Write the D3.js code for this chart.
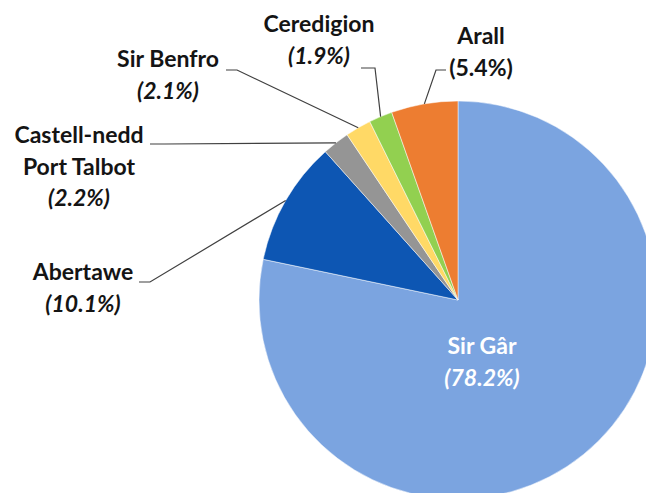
<!DOCTYPE html>
<html>
<head>
<meta charset="utf-8">
<script src="https://cdn.jsdelivr.net/npm/d3@7"></script>
<style>
  body { margin: 0; background: #fff; }
  svg { display: block; }
  text { font-family: Lato, "Open Sans", sans-serif; font-weight: bold; }
</style>
</head>
<body>
<script>
const categories = ["Sir Gâr", "Abertawe", "Castell-nedd\nPort Talbot", "Sir Benfro", "Ceredigion", "Arall"];
const values = [78.2, 10.1, 2.2, 2.1, 1.9, 5.4];
const valueLabels = ["(78.2%)", "(10.1%)", "(2.2%)", "(2.1%)", "(1.9%)", "(5.4%)"];
const italicValue = [true, true, true, true, true, false];
const colors = ["#7ba4e0", "#0d56b3", "#959595", "#ffd966", "#92d050", "#ed7d31"];

// label layout: centre x, first baseline, leader start + elbow
const labelLayout = [
  {x: 482, y: 354, inside: true},
  {x: 83, y: 280, lead: [[139, 282], [150, 282]]},
  {x: 79, y: 143, lead: [[150, 144], [165, 144]]},
  {x: 168, y: 67, lead: [[226, 70], [237, 70]]},
  {x: 319, y: 32, lead: [[361, 68], [375, 68]]},
  {x: 481, y: 44, lead: [[446, 70], [436, 70]]}
];

const W = 646, H = 493, cx = 458, cy = 300, r = 199, lineH = 31.5;

const svg = d3.select("body").append("svg").attr("width", W).attr("height", H);

const data = values.map((v, i) => ({name: categories[i], value: v, label: valueLabels[i], i}));

const pie = d3.pie().sort(null).value(d => d.value);
const arc = d3.arc().innerRadius(0).outerRadius(r);
const edge = d3.arc().innerRadius(r).outerRadius(r);
const arcs = pie(data);

const g = svg.append("g").attr("transform", `translate(${cx},${cy})`);

g.selectAll("path")
  .data(arcs).enter()
  .append("path")
    .attr("d", arc)
    .attr("fill", d => colors[d.data.i])
    .attr("stroke", "#fff")
    .attr("stroke-width", 0.5);

// leader lines
svg.selectAll("polyline")
  .data(arcs.filter(d => !labelLayout[d.data.i].inside)).enter()
  .append("polyline")
    .attr("fill", "none")
    .attr("stroke", "#404040")
    .attr("stroke-width", 1.2)
    .attr("points", d => {
      const p = edge.centroid(d);
      const L = labelLayout[d.data.i].lead;
      return [L[0], L[1], [cx + p[0], cy + p[1]]].map(q => q.join(",")).join(" ");
    });

// labels
const lab = svg.selectAll("text.lab")
  .data(arcs).enter()
  .append("text")
    .attr("class", "lab")
    .attr("text-anchor", "middle")
    .attr("font-size", 23)
    .attr("fill", d => labelLayout[d.data.i].inside ? "#fff" : "#141414");

lab.each(function(d) {
  const t = d3.select(this), L = labelLayout[d.data.i];
  const lines = d.data.name.split("\n");
  lines.forEach((s, k) => {
    t.append("tspan").attr("x", L.x).attr("y", L.y + k * lineH).text(s);
  });
  t.append("tspan")
    .attr("x", L.x)
    .attr("y", L.y + lines.length * lineH)
    .attr("font-style", italicValue[d.data.i] ? "italic" : "normal")
    .text(d.data.label);
});
</script>
</body>
</html>
